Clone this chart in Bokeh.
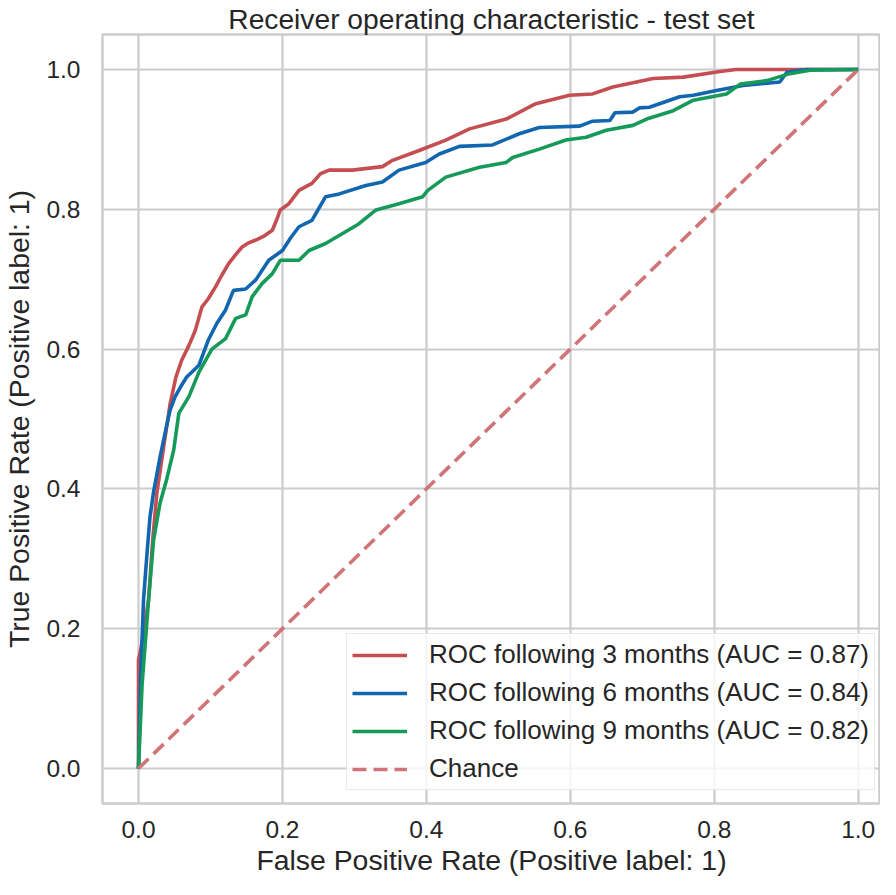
from bokeh.plotting import figure
from bokeh.models import Range1d, FixedTicker, PrintfTickFormatter, Legend, LegendItem
from bokeh.embed import file_html
from bokeh.resources import INLINE

# ---- data ----
fpr_3m = [0, 0, 0.005, 0.014, 0.02, 0.0255, 0.035, 0.044, 0.052, 0.060, 0.070, 0.079, 0.088, 0.097,
          0.107, 0.116, 0.125, 0.135, 0.144, 0.153, 0.163, 0.175, 0.186, 0.192, 0.197, 0.209, 0.223,
          0.241, 0.253, 0.265, 0.297, 0.339, 0.353, 0.39, 0.427, 0.46, 0.511, 0.552, 0.599, 0.631,
          0.659, 0.715, 0.757, 0.808, 0.83, 1.0]
tpr_3m = [0, 0.155, 0.18, 0.241, 0.33, 0.394, 0.46, 0.522, 0.56, 0.584, 0.605, 0.627, 0.66, 0.672,
          0.689, 0.706, 0.722, 0.735, 0.746, 0.752, 0.756, 0.762, 0.77, 0.785, 0.799, 0.808, 0.827,
          0.837, 0.851, 0.856, 0.856, 0.861, 0.87, 0.884, 0.899, 0.915, 0.929, 0.951, 0.963, 0.965,
          0.975, 0.987, 0.989, 0.997, 1.0, 1.0]

fpr_6m = [0, 0.003, 0.007, 0.012, 0.016, 0.021, 0.030, 0.037, 0.044, 0.051, 0.058, 0.067, 0.075,
          0.084, 0.097, 0.109, 0.121, 0.132, 0.149, 0.163, 0.181, 0.2, 0.212, 0.223, 0.241, 0.26,
          0.279, 0.316, 0.339, 0.362, 0.399, 0.418, 0.446, 0.492, 0.529, 0.557, 0.613, 0.631, 0.655,
          0.662, 0.687, 0.696, 0.71, 0.752, 0.771, 0.803, 0.84, 0.891, 0.901, 0.929, 1.0]
tpr_6m = [0, 0.13, 0.241, 0.31, 0.36, 0.396, 0.446, 0.48, 0.513, 0.532, 0.545, 0.56, 0.568,
          0.577, 0.613, 0.637, 0.656, 0.684, 0.686, 0.699, 0.727, 0.741, 0.76, 0.775, 0.784, 0.818,
          0.822, 0.834, 0.839, 0.856, 0.867, 0.879, 0.89, 0.892, 0.908, 0.917, 0.919, 0.926, 0.927,
          0.938, 0.939, 0.945, 0.946, 0.961, 0.963, 0.97, 0.977, 0.982, 0.996, 1.0, 1.0]

fpr_9m = [0, 0.005, 0.014, 0.021, 0.030, 0.039, 0.049, 0.056, 0.070, 0.084, 0.102, 0.121, 0.135,
          0.149, 0.158, 0.172, 0.186, 0.197, 0.223, 0.237, 0.26, 0.283, 0.306, 0.33, 0.362, 0.395,
          0.402, 0.427, 0.474, 0.511, 0.52, 0.557, 0.594, 0.622, 0.65, 0.687, 0.706, 0.743, 0.771,
          0.817, 0.836, 0.873, 0.905, 0.933, 1.0]
tpr_9m = [0, 0.12, 0.241, 0.327, 0.38, 0.413, 0.456, 0.508, 0.532, 0.567, 0.6, 0.615, 0.644,
          0.649, 0.675, 0.694, 0.708, 0.727, 0.727, 0.741, 0.751, 0.765, 0.779, 0.799, 0.808, 0.818,
          0.827, 0.846, 0.86, 0.867, 0.874, 0.886, 0.899, 0.903, 0.913, 0.92, 0.929, 0.941, 0.956,
          0.965, 0.979, 0.984, 0.994, 0.999, 1.0]

chance_x = [0, 1]
chance_y = [0, 1]

labels = ["ROC following 3 months (AUC = 0.87)",
          "ROC following 6 months (AUC = 0.84)",
          "ROC following 9 months (AUC = 0.82)",
          "Chance"]
ticks = [0.0, 0.2, 0.4, 0.6, 0.8, 1.0]

FONT = "Liberation Sans"
TXT = "#262626"
GRID = "#cccccc"

p = figure(width=880, height=879, output_backend="svg", toolbar_location=None,
           x_range=Range1d(-0.05, 1.031), y_range=Range1d(-0.05, 1.05),
           min_border_left=98, min_border_right=0, min_border_top=25, min_border_bottom=76,
           title="Receiver operating characteristic - test set")

p.title.align = "center"
p.title.text_font = FONT
p.title.text_font_size = "28.2px"
p.title.text_font_style = "normal"
p.title.text_color = TXT
p.title.standoff = 0

p.outline_line_color = GRID
p.outline_line_width = 2.5
p.background_fill_color = "white"
p.border_fill_color = "white"

for ax in (p.xaxis[0], p.yaxis[0]):
    ax.ticker = FixedTicker(ticks=ticks)
    ax.formatter = PrintfTickFormatter(format="%.1f")
    ax.axis_line_color = None
    ax.major_tick_line_color = None
    ax.minor_tick_line_color = None
    ax.major_label_text_font = FONT
    ax.major_label_text_font_size = "24.5px"
    ax.major_label_text_color = TXT
    ax.axis_label_text_font = FONT
    ax.axis_label_text_font_size = "28.4px"
    ax.axis_label_text_font_style = "normal"
    ax.axis_label_text_color = TXT

p.xaxis.axis_label = "False Positive Rate (Positive label: 1)"
p.yaxis.axis_label = "True Positive Rate (Positive label: 1)"
p.xaxis.major_label_standoff = 11
p.yaxis.major_label_standoff = 16
p.xaxis.axis_label_standoff = 3
p.yaxis.axis_label_standoff = 8

for g in (p.xgrid[0], p.ygrid[0]):
    g.ticker = FixedTicker(ticks=ticks)
    g.grid_line_color = GRID
    g.grid_line_width = 2.2

r3 = p.line(fpr_3m, tpr_3m, line_color="#c44e52", line_width=3.6)
r6 = p.line(fpr_6m, tpr_6m, line_color="#1266b0", line_width=3.6)
r9 = p.line(fpr_9m, tpr_9m, line_color="#169a5a", line_width=3.6)
rc = p.line(chance_x, chance_y, line_color="#d07478", line_width=3.6, line_dash="14 7")

legend = Legend(items=[LegendItem(label=labels[0], renderers=[r3]),
                       LegendItem(label=labels[1], renderers=[r6]),
                       LegendItem(label=labels[2], renderers=[r9]),
                       LegendItem(label=labels[3], renderers=[rc])],
                location=(244, 13))
legend.label_text_font = FONT
legend.label_text_font_size = "26px"
legend.label_text_color = TXT
legend.glyph_width = 55
legend.glyph_height = 28
legend.label_height = 28
legend.label_width = 438
legend.label_standoff = 22
legend.spacing = 7
legend.padding = 5
legend.margin = 0
legend.border_line_color = "#d5d5d5"
legend.border_line_width = 1.5
legend.background_fill_color = "white"
legend.background_fill_alpha = 0.8
p.add_layout(legend, "center")

open("out.html", "w").write(file_html(p, INLINE))
